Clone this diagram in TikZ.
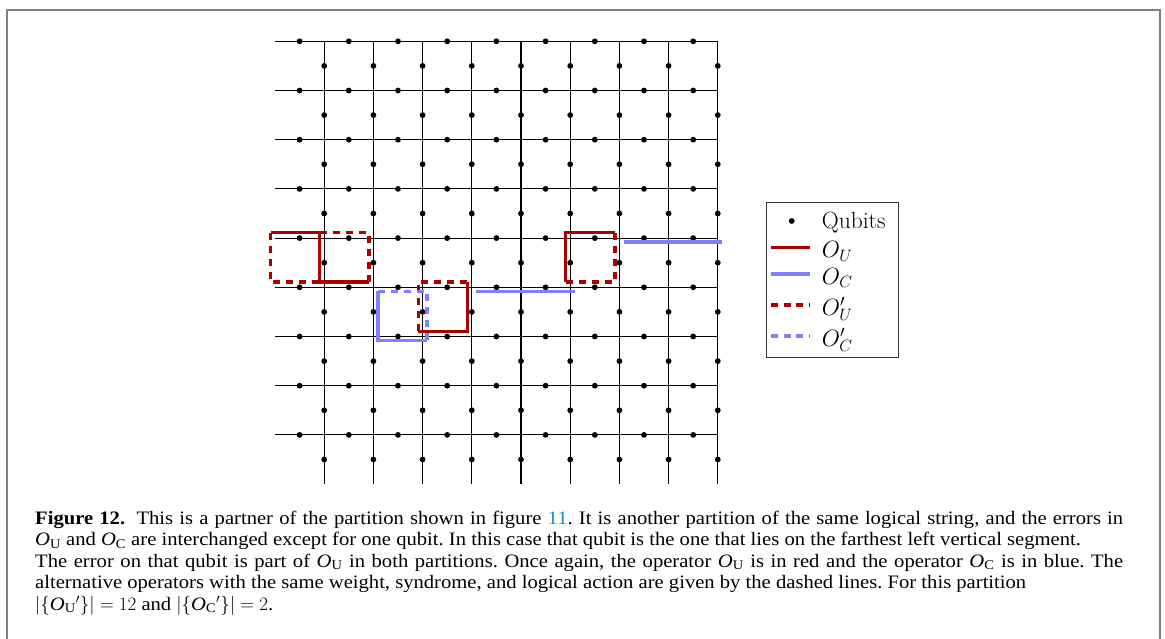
\RequirePackage{fix-cm}
\documentclass[tikz,border=0pt]{standalone}
\usepackage{fontspec}
\newfontfamily\capfont[FakeStretch=1.085]{Liberation Serif}
\definecolor{opred}{HTML}{AA0000}
\definecolor{opblue}{HTML}{8080FF}
\definecolor{refblue}{HTML}{1A8CD8}
\newcommand\OpU{\textit{O}\textsubscript{U}}
\newcommand\OpC{\textit{O}\textsubscript{C}}
\frenchspacing
\tikzset{
  gridline/.style={black, line width=1.1pt},
  qubit/.style={circle, fill=black, inner sep=0pt, minimum size=5.8pt},
  opU/.style={opred, line width=3.2pt},
  opC/.style={opblue, line width=3.6pt},
  altdash/.style={dash pattern=on 7pt off 6pt},
  capline/.style={anchor=base west, inner sep=0pt, font=\capfont\fontsize{19}{21}\selectfont},
  legtext/.style={anchor=base west, inner sep=0pt, font=\fontsize{23.5}{28}\selectfont},
  frameline/.style={black!50, line width=2pt},
}
\begin{document}
\begin{tikzpicture}[x=1pt,y=-1pt]
\useasboundingbox (0,0) rectangle (1165,639);
% outer frame (open at the bottom)
\draw[frameline] (7,639) -- (7,10) -- (1160,10) -- (1160,639);
% lattice
\begin{scope}[shift={(275pt,-41.3pt)}, x=49.2pt, y=-49.2pt]
  \foreach \j in {0,...,8} \draw[gridline] (0,\j) -- (9,\j);
  \foreach \i in {1,...,9} \draw[gridline] (\i,0) -- (\i,9);
  \foreach \j in {0,...,8} \foreach \i in {0,...,8} \fill (\i+0.5,\j) circle[radius=2.9pt];
  \foreach \i in {1,...,9} \foreach \j in {0,...,8} \fill (\i,\j+0.5) circle[radius=2.9pt];
  % O_U (red) and its alternatives
  \begin{scope}[xshift=-4.5pt, yshift=5.3pt]
    \draw[opU] (0,4) -- (1,4) -- (1,5) -- (2,5);
    \draw[opU, altdash] (0,4) -- (0,5) -- (1,5);
    \draw[opU, altdash] (1,4) -- (2,4) -- (2,5);
    \draw[opU] (3,6) -- (4,6) -- (4,5);
    \draw[opU, altdash] (3,6) -- (3,5) -- (4,5);
    \draw[opU] (6,5) -- (6,4) -- (7,4);
    \draw[opU, altdash] (6,5) -- (7,5) -- (7,4);
  \end{scope}
  % O_C (blue) and its alternative
  \begin{scope}[xshift=4.5pt, yshift=-4pt]
    \draw[opC] (2,5) -- (2,6) -- (3,6);
    \draw[opC, altdash] (2,5) -- (3,5) -- (3,6);
    \draw[opC] (4,5) -- (6,5);
    \draw[opC] (7,4) -- (9,4);
  \end{scope}
\end{scope}
% legend
\node[draw=black!80, line width=1.2pt, minimum width=131.6pt, minimum height=155pt, inner sep=0pt] (legbox) at (832.5,280.2) {};
\node[qubit] (legdot) at (791.7,221) {};
\coordinate (a1) at (771,247.7); \coordinate (b1) at (810,247.7);
\coordinate (a2) at (771,274.3); \coordinate (b2) at (810,274.3);
\coordinate (a3) at (771,305);   \coordinate (b3) at (810,305);
\coordinate (a4) at (771,336);   \coordinate (b4) at (810,336);
\draw[opU] (a1) -- (b1);
\draw[opC] (a2) -- (b2);
\draw[opU, dash pattern=on 7pt off 5.5pt] (a3) -- (b3);
\draw[opC, dash pattern=on 7pt off 5.5pt] (a4) -- (b4);
\node[legtext] (tq) at (821.7,228.3) {Qubits};
\node[legtext] (tu) at (821.7,257.5) {$O_U$};
\node[legtext] (tc) at (821.7,284) {$O_C$};
\node[legtext] (tu2) at (821.7,315) {$O'_U$};
\node[legtext] (tc2) at (821.7,346) {$O'_C$};
% caption
\node[capline] (cap1) at (35,524) {\makebox[1088pt][s]{\textbf{Figure 12.}\hspace{0.6em}This is a partner of the partition shown in figure \textcolor{refblue}{11}. It is another partition of the same logical string, and the errors in}};
\node[capline] (cap2) at (35,545.5) {\OpU{} and \OpC{} are interchanged except for one qubit. In this case that qubit is the one that lies on the farthest left vertical segment.};
\node[capline] (cap3) at (35,567) {\makebox[1088pt][s]{The error on that qubit is part of \OpU{} in both partitions. Once again, the operator \OpU{} is in red and the operator \OpC{} is in blue. The}};
\node[capline] (cap4) at (35,588.5) {alternative operators with the same weight, syndrome, and logical action are given by the dashed lines. For this partition};
\node[capline] (cap5) at (35,610) {$|\{$\OpU$'\}|=12$ and $|\{$\OpC$'\}|=2$.};
\end{tikzpicture}
\end{document}
